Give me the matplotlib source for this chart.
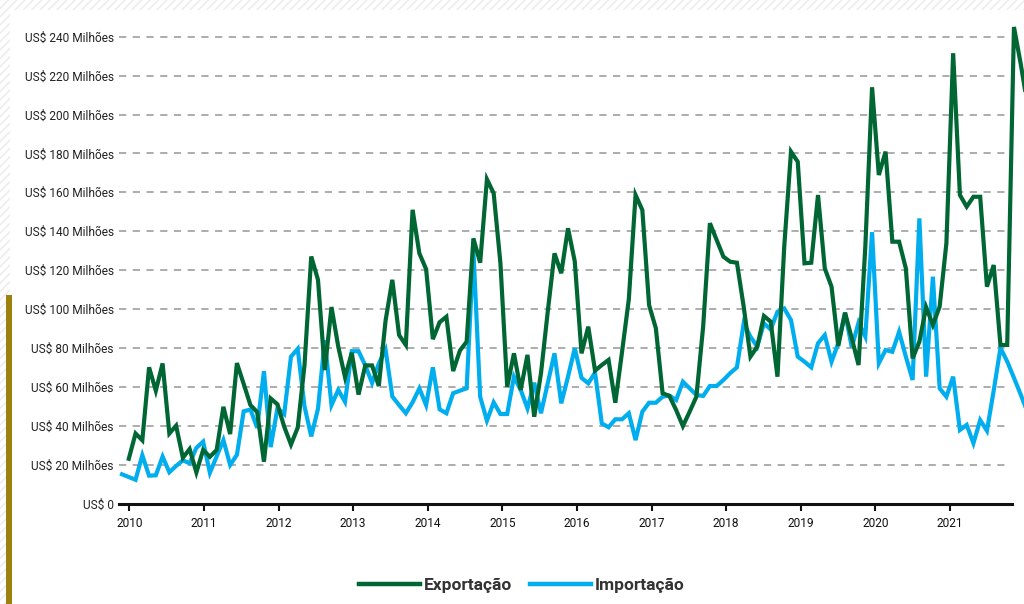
import matplotlib
matplotlib.use("Agg")
import matplotlib.pyplot as plt
import numpy as np
from matplotlib.patches import Rectangle
from matplotlib.lines import Line2D

# ---------------- data ----------------
anos = [str(a) for a in range(2010, 2022)]
y_ticks = list(range(0, 241, 20))
y_labels = ["US$ 0"] + [f"US$ {v} Milhões" for v in y_ticks[1:]]

exportacao = [
    23, 36, 32.5, 70, 58, 72, 36, 40, 23.5, 28, 16, 27.5,
    24, 27.5, 49.7, 35.7, 72.2, 61.5, 50.6, 47, 21.5, 54, 51, 39.5,
    30.3, 39, 71, 127, 115, 68.6, 101, 80.6, 65, 77.5, 56, 71,
    71, 60.4, 94, 115, 86.6, 81.5, 151, 128.6, 120.5, 84.5, 93.2, 96,
    68.1, 78.6, 83.2, 136.3, 123.8, 166.7, 159.5, 123.5, 60, 77.2, 58.4, 76.4,
    44.6, 66.9, 98.6, 128.6, 118.4, 141.5, 124.5, 77.2, 90.9, 68.3, 71.2, 73.8,
    51.8, 78, 105, 158.6, 150.9, 102, 90.1, 56.7, 55.3, 48.1, 39.8, 47.2,
    54.9, 90.9, 144.1, 135.5, 126.9, 124.3, 123.8, 101.2, 75.5, 80.6, 96.4, 93.5,
    65.2, 132, 180.9, 175.7, 123.5, 123.8, 158.6, 120.9, 111.5, 81, 98.1, 84.9,
    71.2, 132, 214, 168.9, 180.9, 134.6, 134.6, 120.9, 74.6, 83.2, 100.9, 91.8,
    101.2, 133.8, 231.5, 158.6, 152.6, 157.7, 157.7, 111.5, 122.6, 81.5, 81.5, 245,
    226, 205,
]

importacao = [
    15,
    13.6, 12.2, 24.8, 14.3, 14.5, 24.1, 16.1, 19.3, 22.2, 20.7, 28.6, 31.8,
    15.8, 24.2, 32.6, 19.8, 25, 47.4, 48.3, 38.9, 68, 29, 49, 46,
    75.5, 79.5, 50, 34.5, 48.7, 84, 50.6, 58.4, 52.3, 78.3, 78.3, 71,
    62, 72, 79, 55, 50.6, 46.4, 52, 59.2, 50.6, 70, 48.4, 46.4,
    56.7, 58, 59.2, 130, 54.9, 42.6, 52, 46, 46, 65.2, 58.4, 48.9,
    62.1, 46.4, 61.8, 77.2, 51.5, 65.2, 79.8, 64.6, 61.8, 67.3, 41.2, 39.2,
    43.3, 43.3, 46.4, 32.6, 47.2, 51.8, 51.8, 54.9, 55.5, 53.2, 62.6, 59.2,
    55.8, 55.3, 60.4, 60.4, 63.5, 67, 70, 92.6, 85.8, 80.6, 92.6, 89.5,
    98.6, 100.3, 94.3, 75.5, 72.9, 70, 82.4, 86.6, 72.9, 82.4, 98.1, 80.3,
    93, 85.8, 139.5, 72.1, 78.9, 78, 88.3, 75.5, 63.5, 146.6, 65.2, 116.6,
    59.2, 54.9, 65.2, 37.8, 40.4, 31, 42.9, 37.4, 58, 80, 73, 64.6,
    56, 47,
]
importacao_inicio = -1  # the import series starts one step before the export one

# ---------------- style ----------------
COR_EXP = "#006633"
COR_IMP = "#00aeef"
GRID = "#a6a6a6"
FONT = ["Roboto", "DejaVu Sans"]
plt.rcParams["font.family"] = FONT
plt.rcParams["hatch.linewidth"] = 1.2

W, H = 1024, 604
fig = plt.figure(figsize=(W / 100, H / 100), dpi=100)

# background: hatched frame, white card, gold accent bar
fig.patches.append(Rectangle((0, 0), 1, 1, transform=fig.transFigure,
                             facecolor="white", edgecolor="#ededed",
                             hatch="////", lw=0, zorder=-10))
fig.patches.append(Rectangle((10 / W, 0), 1, (H - 10) / H, transform=fig.transFigure,
                             facecolor="white", edgecolor="none", zorder=-9))
fig.patches.append(Rectangle((6 / W, 0), 6 / W, (H - 295) / H, transform=fig.transFigure,
                             facecolor="#9e800f", edgecolor="none", zorder=-8))

# axes placement (pixels)
ax_left, ax_right, ax_bottom, ax_top = 119.3, 1024, 503.5, 20
ax = fig.add_axes([ax_left / W, (H - ax_bottom) / H,
                   (ax_right - ax_left) / W, (ax_bottom - ax_top) / H])
ax.set_facecolor("none")

px_per_point = 6.757
x0_px = 128.8
px_per_unit = 1.945
x_min = (ax_left - x0_px) / px_per_point
x_max = (ax_right - x0_px) / px_per_point
axis_end = (1012 - x0_px) / px_per_point
grid_end = (1008 - x0_px) / px_per_point
ax.set_xlim(x_min, x_max)
ax.set_ylim(0, (ax_bottom - ax_top) / px_per_unit)

x_exp = np.arange(len(exportacao))
x_imp = np.arange(len(importacao)) + importacao_inicio

ax.hlines(y_ticks[1:], x_min, grid_end, colors=GRID, linestyles=(0, (4, 3.6)),
          lw=1.3, zorder=1)

ax.plot(x_imp, importacao, color=COR_IMP, lw=3, solid_joinstyle="miter",
        zorder=3, clip_on=True)
ax.plot(x_exp, exportacao, color=COR_EXP, lw=3, solid_joinstyle="miter",
        zorder=4, clip_on=True)

for s in ["top", "right", "left"]:
    ax.spines[s].set_visible(False)
ax.spines["bottom"].set_linewidth(2.2)
ax.spines["bottom"].set_color("#111111")
ax.spines["bottom"].set_bounds(x_min, axis_end)

ax.set_yticks(y_ticks)
ax.set_yticklabels(y_labels)
ax.tick_params(axis="y", length=0, pad=4, labelsize=8.6, labelcolor="#222222")

pts_per_year = 74.6 / px_per_point
ax.set_xticks([(129.3 - x0_px) / px_per_point + k * pts_per_year for k in range(len(anos))])
ax.set_xticklabels(anos)
ax.tick_params(axis="x", length=5, width=1.5, color="#111111", pad=5,
               labelsize=8.6, labelcolor="#111111")

handles = [Line2D([], [], color=COR_EXP, lw=3.2),
           Line2D([], [], color=COR_IMP, lw=3.2)]
leg = fig.legend(handles, ["Exportação", "Importação"], loc="center",
                 bbox_to_anchor=(522 / W, (H - 585) / H), ncol=2, frameon=False,
                 handlelength=3.5, handletextpad=0.25, columnspacing=1.0,
                 prop={"family": FONT, "weight": "bold", "size": 12.5})
for t in leg.get_texts():
    t.set_color("#333333")

fig.savefig("out.png", dpi=100)
